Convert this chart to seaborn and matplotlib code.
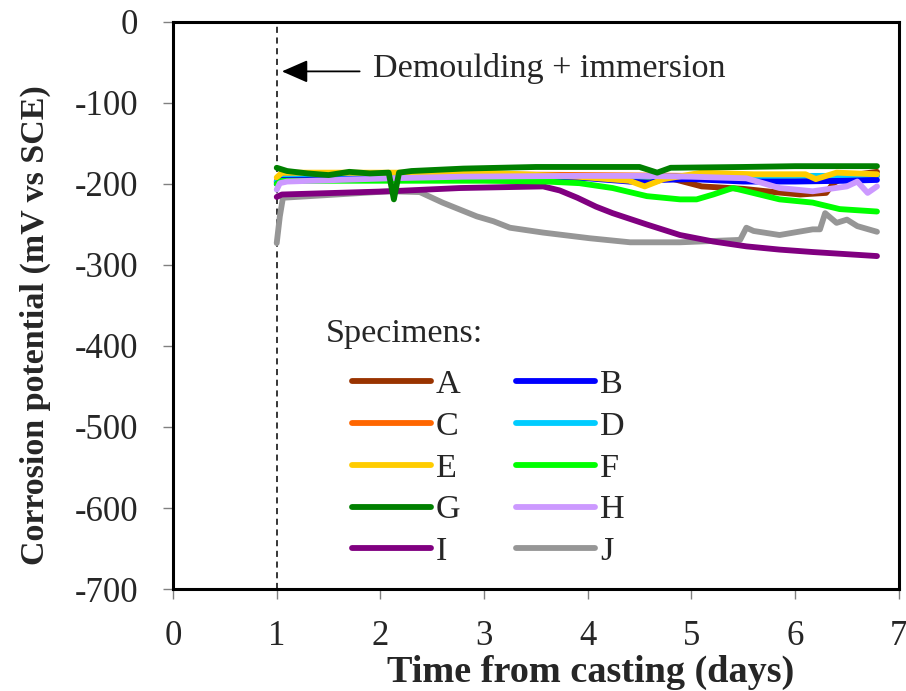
import pandas as pd
import matplotlib
matplotlib.use('Agg')
import matplotlib.pyplot as plt
import seaborn as sns

# Corrosion potential vs time from casting, specimens A-J

specimens = ['A', 'B', 'C', 'D', 'E', 'F', 'G', 'H', 'I', 'J']
colors = ['#993300', '#0000FF', '#FF6600', '#00CCFF', '#FFCC00',
          '#00FF00', '#008000', '#CC99FF', '#800080', '#969696']

t_A = [1.0, 1.05, 2.0, 3.0, 4.0, 4.8, 5.1, 5.5, 5.8, 6.05, 6.3, 6.37, 6.5, 6.79]
v_A = [-198, -192, -190, -189, -190, -193, -203, -206, -210, -213, -211, -199, -190, -185]

t_B = [1.0, 1.05, 2.0, 3.0, 4.0, 4.6, 4.7, 5.0, 5.5, 6.0, 6.5, 6.79]
v_B = [-200, -195, -194, -193, -193, -199, -195, -194, -197, -197, -196, -195]

t_C = [1.0, 1.05, 2.0, 3.0, 4.0, 5.0, 6.0, 6.79]
v_C = [-196, -190, -189, -188, -189, -190, -191, -190]

t_D = [1.0, 1.05, 2.0, 3.0, 4.0, 5.0, 6.0, 6.5, 6.79]
v_D = [-197, -193, -193, -192, -191, -191, -190, -190, -190]

t_E = [1.0, 1.05, 2.0, 3.0, 3.9, 4.4, 4.55, 4.73, 5.1, 5.6, 6.1, 6.2, 6.4, 6.79]
v_E = [-192, -186, -186, -186, -191, -196, -203, -194, -186, -188, -188, -194, -186, -188]

t_F = [1.0, 1.05, 2.0, 3.0, 3.6, 3.92, 4.24, 4.57, 4.89, 5.05, 5.21, 5.4, 5.53, 5.85, 6.17, 6.43, 6.79]
v_F = [-200, -196, -196, -196, -197, -199, -205, -215, -219, -219, -213, -205, -209, -219, -223, -231, -234]

t_G = [1.0, 1.1, 1.3, 1.5, 1.7, 1.9, 2.08, 2.13, 2.18, 2.3, 2.8, 3.5, 4.5, 4.67, 4.8, 5.5, 6.0, 6.79]
v_G = [-180, -184, -187, -189, -185, -187, -186, -219, -186, -184, -181, -179, -179, -186, -180, -179, -178, -178]

t_H = [1.0, 1.03, 1.1, 2.09, 2.8, 3.92, 4.5, 5.0, 5.53, 5.85, 6.17, 6.5, 6.6, 6.7, 6.79]
v_H = [-207, -199, -197, -193, -191, -190, -190, -191, -193, -205, -209, -203, -197, -211, -203]

t_I = [1.0, 1.05, 2.09, 2.77, 3.57, 3.73, 3.9, 4.08, 4.24, 4.57, 4.89, 5.21, 5.53, 5.85, 6.17, 6.79]
v_I = [-216, -213, -209, -205, -203, -208, -217, -228, -236, -250, -263, -271, -277, -281, -284, -289]

t_J = [1.0, 1.03, 1.06, 2.09, 2.38, 2.6, 2.93, 3.09, 3.25, 3.57, 4.02, 4.41, 4.89, 5.47, 5.53, 5.6,
       5.85, 6.17, 6.24, 6.29, 6.4, 6.5, 6.6, 6.79]
v_J = [-273, -240, -217, -209, -210, -223, -240, -246, -254, -260, -267, -272, -272, -269, -254, -258,
       -263, -256, -256, -236, -248, -244, -252, -259]

series = {
    'A': (t_A, v_A), 'B': (t_B, v_B), 'C': (t_C, v_C), 'D': (t_D, v_D), 'E': (t_E, v_E),
    'F': (t_F, v_F), 'G': (t_G, v_G), 'H': (t_H, v_H), 'I': (t_I, v_I), 'J': (t_J, v_J),
}
frames = []
for name, (t, v) in series.items():
    frames.append(pd.DataFrame({'time': t, 'potential': v, 'specimen': name}))
data = pd.concat(frames, ignore_index=True)

sns.set_style('ticks')
plt.rcParams['font.family'] = ['Liberation Serif', 'DejaVu Serif']
plt.rcParams['axes.unicode_minus'] = False

fig = plt.figure(figsize=(9.06, 6.91), dpi=100)
ax = fig.add_axes([0.191, 0.1476, 0.801, 0.8206])

# draw in an order so the top greens/lilac sit over the others like the original
draw_order = ['J', 'I', 'A', 'C', 'D', 'B', 'E', 'F', 'H', 'G']
palette = dict(zip(specimens, colors))
sns.lineplot(data=data, x='time', y='potential', hue='specimen', hue_order=draw_order,
             palette=palette, estimator=None, sort=False, lw=4.2, ax=ax, legend=False)
for line in ax.lines:
    line.set_solid_capstyle('round')
    line.set_solid_joinstyle('round')

ax.axvline(1, color='black', lw=1.1, ls=(0, (4, 3)), zorder=1)

ax.set_xlim(0, 7)
ax.set_ylim(-700, 0)
ax.set_xticks(range(0, 8))
ax.set_yticks(range(-700, 1, 100))
ax.tick_params(axis='both', labelsize=25, length=7, width=1, color='#808080',
               direction='out')
ax.tick_params(axis='y', pad=18)
ax.tick_params(axis='x', pad=15)
for sp in ax.spines.values():
    sp.set_visible(True)
    sp.set_linewidth(2.2)
    sp.set_color('black')

ax.set_xlabel('Time from casting (days)', fontsize=27.5, fontweight='bold')
ax.set_ylabel('Corrosion potential (mV vs SCE)', fontsize=24.5, fontweight='bold')
ax.xaxis.set_label_coords(0.576, -0.116)
ax.yaxis.set_label_coords(-0.168, 0.465)

# annotation
ax.annotate('', xy=(1.05, -61), xytext=(1.8, -61),
            arrowprops=dict(arrowstyle='-|>,head_length=1.6,head_width=0.7',
                            color='black', lw=1.3, shrinkA=0, shrinkB=0))
ax.text(1.93, -58, 'Demoulding + immersion', fontsize=24.6, va='center', ha='left')

# legend
ax.text(1.47, -385, 'Specimens:', fontsize=24.6, va='center', ha='left')
handles = {}
for name, col in zip(specimens, colors):
    handles[name] = plt.Line2D([], [], color=col, lw=4.2, solid_capstyle='round')
leg_order = ['A', 'C', 'E', 'G', 'I', 'B', 'D', 'F', 'H', 'J']
ax.legend([handles[k] for k in leg_order], leg_order, ncol=2, frameon=False,
          loc='upper left', bbox_to_anchor=(0.247, 0.388), fontsize=24.6,
          handlelength=2.3, handletextpad=0.15, columnspacing=1.62,
          labelspacing=0.32, borderpad=0, borderaxespad=0)

fig.savefig('out.png', dpi=100)
